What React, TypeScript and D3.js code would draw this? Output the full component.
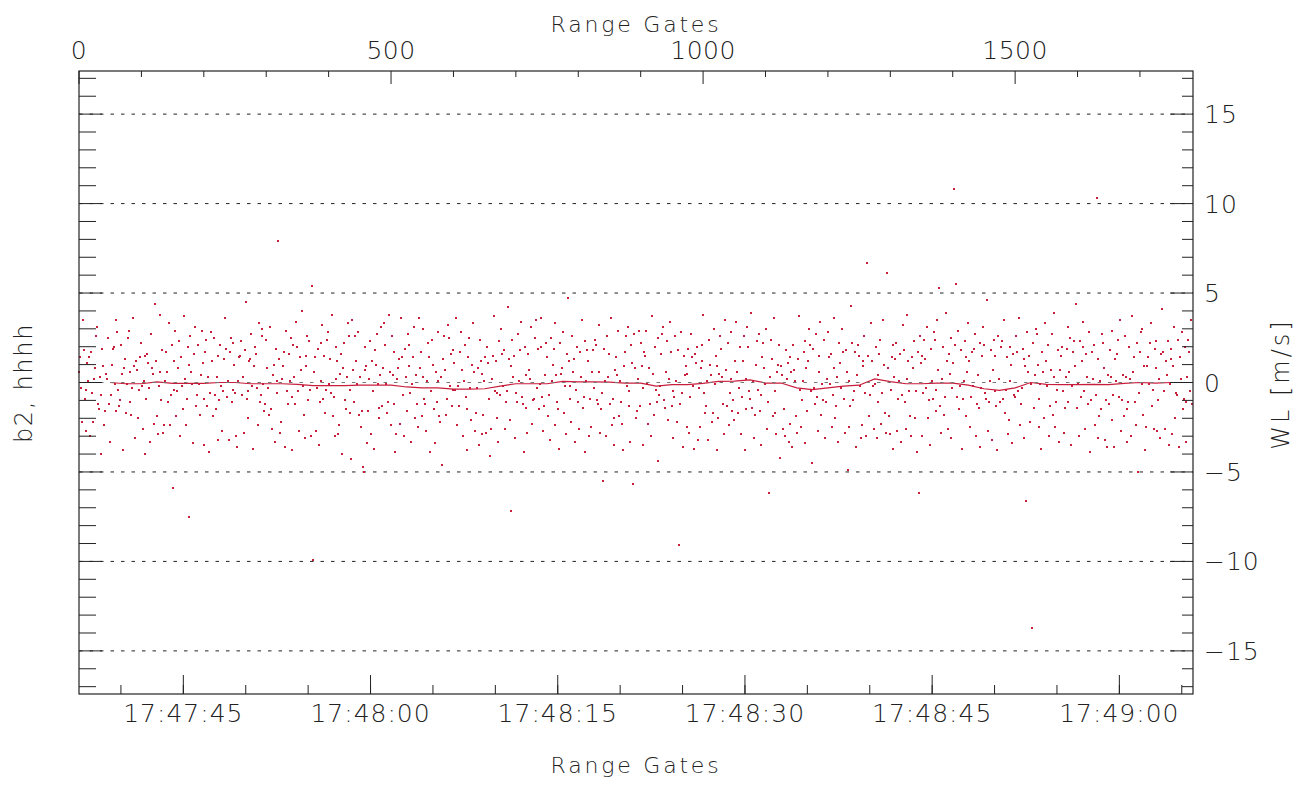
import React from "react";
import * as d3 from "d3";

const W = 1315;
const H = 787;
const LEFT = 79;
const RIGHT = 1193;
const TOP = 71;
const BOTTOM = 694;

// WL samples in tenths of m/s, one sample every 1.5 range gates
const GATE_STEP = 1.5;
const wlTenths: number[][] = [
  [6,14,-3,-22,35,18,-9,-27,-4,11,1,14,-30,17,-6,-22,2,8,26,31,-12,-15,3,-7,-40,19,9,-24,-16,5,2,25,-12,-33,-7,10,19,20,-1,35,-16,28,-4,-13,-10,21,5,-38,8,13],
  [-17,-1,25,29,-11,6,-18,-3,36,9,-31,12,7,-20,-4,14,22,-2,-26,1,15,-40,-9,16,11,-3,-33,27,8,5,-23,44,12,-19,-29,-2,38,6,-10,18,-28,-24,1,17,6,-11,33,-24,-7,21],
  [-59,-4,12,29,-19,-5,8,23,-30,14,-2,-15,37,2,-24,-9,20,-75,10,26,6,-1,-34,16,31,-13,-7,21,-1,-18,4,29,11,-35,-9,17,24,-13,3,-39,-6,28,12,-19,25,-7,-15,3,15,-32],
  [-10,21,-2,-27,-5,13,36,19,-8,1,-32,17,25,-11,-4,22,10,-6,-30,-36,1,14,15,23,-7,3,-28,18,45,-9,-20,-5,12,13,27,-2,-37,9,20,16,-3,-24,33,-11,-7,26,30,-1,-16,-12],
  [24,8,-3,-18,31,-15,-26,4,10,-33,19,1,-6,79,13,-28,-22,2,9,17,-36,29,-5,-12,16,1,25,-38,-8,21,3,-12,34,20,-5,-27,14,7,40,-2,-18,-31,9,15,26,-10,23,-4,-30,54],
  [-99,6,14,-27,-3,19,-35,-11,1,22,32,-9,15,-17,-4,24,28,-1,13,-6,38,-19,-8,-30,20,2,12,-29,-24,5,16,-40,8,22,-10,-15,3,33,26,-4,-17,-43,35,7,-11,26,12,-1,28,-18],
  [3,-25,-16,-47,-50,20,7,9,-34,-16,2,23,-29,12,-5,-37,18,10,27,-1,-20,-14,4,31,-13,8,33,21,-1,-17,-11,38,6,-24,26,4,-12,17,-39,-29,2,8,13,-23,36,14,-7,-30,19,3],
  [-16,27,9,21,-6,-33,-1,14,31,-20,4,-12,-25,36,8,17,-19,3,30,-9,-12,-27,1,22,14,-39,-5,24,10,-15,-34,6,-11,28,1,-19,-22,3,-46,13,26,7,-18,-9,32,25,-2,16,-13,-4],
  [18,11,-4,36,-24,-2,-13,17,28,7,-30,1,21,-8,-38,-15,14,25,-3,-21,10,33,6,-27,-17,-3,8,-35,24,12,5,-29,-18,1,14,-28,20,11,-9,-41,-26,2,15,37,-5,12,-20,-6,-33,23],
  [-7,30,16,-2,18,-26,-11,-5,42,13,-21,9,-72,24,3,15,-31,-6,-11,27,1,18,34,-8,-12,-39,20,4,-14,-28,16,7,2,31,-23,-10,-9,25,35,-3,19,-15,-1,36,20,-8,-27,-13,4,22],
  [14,-19,-7,-32,25,1,10,19,-24,33,4,-11,-15,-37,22,5,8,28,-17,-2,-29,16,47,12,-2,-9,-22,26,6,13,-33,-4,20,-11,-26,17,3,35,-14,-8,-39,23,1,18,12,-30,-9,-25,6,18],
  [-3,24,21,-10,-12,32,6,-28,-15,-6,-55,19,1,-30,26,3,16,-12,36,-24,-9,-20,-35,7,14,4,29,-19,1,-11,-23,-38,9,17,26,-2,31,-13,-5,-33,21,11,-57,27,8,-20,-16,2,29,-13],
  [22,9,-3,-35,17,15,29,-1,-23,8,-12,-30,37,5,-18,20,-4,-11,25,-44,-7,-2,16,27,31,-10,-14,6,23,-21,2,34,17,-13,-31,-5,-8,26,1,-22,18,-91,-12,28,-6,-36,15,4,9,-25],
  [5,19,-28,-8,27,14,-2,-37,16,11,20,-32,-3,-25,8,21,12,38,-6,-17,-13,1,-32,24,10,4,-22,-17,30,-1,15,9,-38,-20,5,26,19,3,-12,-29,35,7,-13,22,-24,-6,2,28,-16,-10],
  [-21,12,34,6,-17,-3,20,-29,-8,12,26,-38,-15,2,31,20,-5,-9,39,-14,1,-31,-18,10,23,-4,27,-16,-7,-35,14,22,8,-1,30,-26,-11,-62,3,24,13,-19,36,-5,-17,-29,6,10,21,-42],
  [9,4,-26,-15,-30,18,2,11,-33,-23,14,6,-36,21,7,1,-19,-28,13,37,-4,-25,-10,1,17,-34,23,8,-16,12,30,21,-5,-45,19,-3,-12,27,-8,-27,15,6,34,-18,-1,-10,24,-31,-11,2],
  [28,14,-1,16,-25,-7,36,8,-20,-13,3,-33,22,11,-3,30,17,-9,-28,18,6,-49,-25,1,-13,43,22,-10,-5,17,-36,4,21,15,-2,-31,-24,12,9,26,-6,-30,67,15,-19,-7,33,12,-2,-26],
  [-1,20,-31,-11,4,16,24,-23,-6,35,10,-17,-28,61,8,-19,-29,-4,14,21,-37,3,13,22,-27,-9,1,16,-33,-7,32,18,-11,-26,2,38,12,-5,-19,-30,14,8,23,-20,-5,-39,17,-62,26,11],
  [15,-30,-6,24,13,-3,31,-20,-10,-35,19,1,-9,28,24,-4,-16,35,7,53,-13,-28,2,20,-18,-8,39,12,-26,16,5,25,-31,-3,11,108,21,55,-8,29,-15,-2,18,-37,-9,1,23,-19,14,6],
  [33,12,-25,-8,17,-2,19,27,-30,-12,4,-14,22,-36,-3,15,31,21,-6,-9,46,-27,-11,1,18,-32,7,24,15,-5,-13,-38,26,2,-11,20,23,-9,35,-17,-4,14,-29,-21,1,20,10,-34,16,-7],
  [-8,26,17,-5,36,-24,-12,-3,19,-31,13,9,-66,28,6,15,-22,-1,-137,22,-14,4,30,27,10,-9,-25,-1,-37,17,6,-20,33,12,-2,21,-30,-13,7,27,-18,3,39,-25,-11,-4,18,-33,7,15],
  [20,-5,-28,-14,3,19,31,-11,6,25,-35,-2,17,23,9,44,-14,-1,-30,23,-8,12,20,34,-5,-26,16,3,-12,28,-39,-10,17,2,21,-24,-7,103,13,-31,-19,1,-15,27,22,8,-32,-10,-36,4],
  [-12,18,3,29,-21,-7,-36,13,1,16,24,-8,35,-27,-10,4,-19,26,3,-33,-15,-11,20,2,-30,37,6,14,-11,-24,22,-50,-6,17,28,30,-1,-18,9,-38,-25,9,14,-1,22,33,-13,-4,-26,19],
  [8,23,-27,-10,2,-31,16,41,17,-5,-26,12,4,23,-35,-1,19,13,-29,9,31,-20,-6,-7,24,-36,14,2,28,-15,-9,20,-33,-11,3,24,17,-5,35,-12],
];

// running mean of WL, hundredths of m/s, every 25 gates from gate 50
const meanStartGate = 50;
const meanStepGate = 25;
const meanHundredths = [
  0,-7,-7,3,-5,-5,-5,0,0,-7,-7,-7,-10,-18,-18,-18,-15,-15,-15,-25,-30,-30,-37,-37,-35,
  -20,-7,-7,-7,6,4,4,2,-3,-3,-20,-12,-12,-5,6,8,15,-3,-3,-30,-40,-30,-20,-15,20,
  5,-7,-7,-3,-3,-15,-35,-44,-30,0,-10,-12,-12,-10,-12,-5,0,-3,0,
];

const gateLabels = [0, 500, 1000, 1500];
const gridValues = [-15, -10, -5, 5, 10, 15];
const yLabels = [-15, -10, -5, 0, 5, 10, 15];

const FONT = "DejaVu Sans";
const INK = "#222";
const RED = "#c81e3c";

export default function App() {
  const gate = d3.scaleLinear().domain([0, 1785]).range([LEFT, RIGHT]);
  const time = d3
    .scaleUtc()
    .domain([
      new Date(Date.UTC(2000, 0, 1, 17, 47, 36, 640)),
      new Date(Date.UTC(2000, 0, 1, 17, 49, 5, 900)),
    ])
    .range([LEFT, RIGHT]);
  const y = d3.scaleLinear().domain([-17.41, 17.41]).range([BOTTOM, TOP]);

  const pts = wlTenths.flat().map((v, i) => ({ g: i * GATE_STEP, v: v / 10 }));
  const mean = meanHundredths.map((v, i) => ({
    g: meanStartGate + i * meanStepGate,
    v: v / 100,
  }));
  const line = d3
    .line<{ g: number; v: number }>()
    .x((d) => gate(d.g))
    .y((d) => y(d.v));

  const majorTimes = time.ticks(d3.utcSecond.every(15)!);
  const minorTimes = time.ticks(d3.utcSecond.every(5)!);
  const fmt = d3.utcFormat("%H:%M:%S");
  const gateTicks = d3.range(0, 1785, 100);
  const yTicks = d3.range(-17, 18);

  return (
    <svg
      width={W}
      height={H}
      style={{ position: "absolute", left: 0, top: 0, background: "#fff" }}
      fontFamily={FONT}
      fontWeight={200}
    >
      {/* dotted grid */}
      {gridValues.map((v) => (
        <line
          key={v}
          x1={LEFT}
          x2={RIGHT}
          y1={y(v)}
          y2={y(v)}
          stroke={INK}
          strokeDasharray="3.5,7"
          strokeWidth={1}
        />
      ))}

      {/* samples, snapped to whole pixels */}
      <g fill={RED} shapeRendering="crispEdges">
        {pts
          .filter((p) => p.g <= 1785)
          .map((p, i) => (
            <rect
              key={i}
              x={Math.round(gate(p.g)) - 1}
              y={Math.round(y(p.v)) - 1}
              width={2}
              height={2}
            />
          ))}
      </g>
      <path d={line(mean) || ""} fill="none" stroke={RED} strokeWidth={1.2} />
      <line
        x1={LEFT}
        x2={RIGHT}
        y1={y(0)}
        y2={y(0)}
        stroke="#777"
        strokeDasharray="3.5,7"
      />

      {/* frame */}
      <rect
        x={LEFT}
        y={TOP}
        width={RIGHT - LEFT}
        height={BOTTOM - TOP}
        fill="none"
        stroke={INK}
        strokeWidth={1.2}
      />

      {/* top gate axis */}
      {gateTicks.map((g) => (
        <line
          key={g}
          x1={gate(g)}
          x2={gate(g)}
          y1={TOP}
          y2={TOP + (g % 500 === 0 ? 13 : 6)}
          stroke={INK}
        />
      ))}
      {gateLabels.map((g) => (
        <text key={g} x={gate(g)} y={59} textAnchor="middle" fontSize={25} fill={INK} letterSpacing={0.5}>
          {g}
        </text>
      ))}
      <text x={(LEFT + RIGHT) / 2} y={32} textAnchor="middle" fontSize={22} fill={INK} letterSpacing={2.8}>
        Range Gates
      </text>

      {/* bottom time axis */}
      {minorTimes.map((t) => (
        <line key={+t} x1={time(t)} x2={time(t)} y1={BOTTOM} y2={BOTTOM - 9} stroke={INK} />
      ))}
      {majorTimes.map((t) => (
        <g key={+t}>
          <line x1={time(t)} x2={time(t)} y1={BOTTOM} y2={BOTTOM - 19} stroke={INK} />
          <text x={time(t)} y={722} textAnchor="middle" fontSize={25} fill={INK} letterSpacing={1}>
            {fmt(t)}
          </text>
        </g>
      ))}
      <text x={(LEFT + RIGHT) / 2} y={773} textAnchor="middle" fontSize={22} fill={INK} letterSpacing={2.8}>
        Range Gates
      </text>

      {/* left and right value ticks */}
      {yTicks.map((v) => {
        const major = v % 5 === 0;
        return (
          <g key={v}>
            <line x1={LEFT} x2={LEFT + (major ? 23 : 17)} y1={y(v)} y2={y(v)} stroke={INK} />
            <line x1={RIGHT} x2={RIGHT - (major ? 23 : 11)} y1={y(v)} y2={y(v)} stroke={INK} />
          </g>
        );
      })}
      {yLabels.map((v) => (
        <text key={v} x={1204} y={y(v) + 9} fontSize={25} fill={INK} letterSpacing={1}>
          {v < 0 ? "\u2212" + Math.abs(v) : v}
        </text>
      ))}

      <text
        transform="translate(1289,384) rotate(-90)"
        textAnchor="middle"
        fontSize={24}
        fill={INK}
        letterSpacing={3}
      >
        WL [m/s]
      </text>
      <text
        transform="translate(32,383) rotate(-90)"
        textAnchor="middle"
        fontSize={24}
        fill={INK}
        letterSpacing={1.7}
      >
        b2, hhhh
      </text>
    </svg>
  );
}
